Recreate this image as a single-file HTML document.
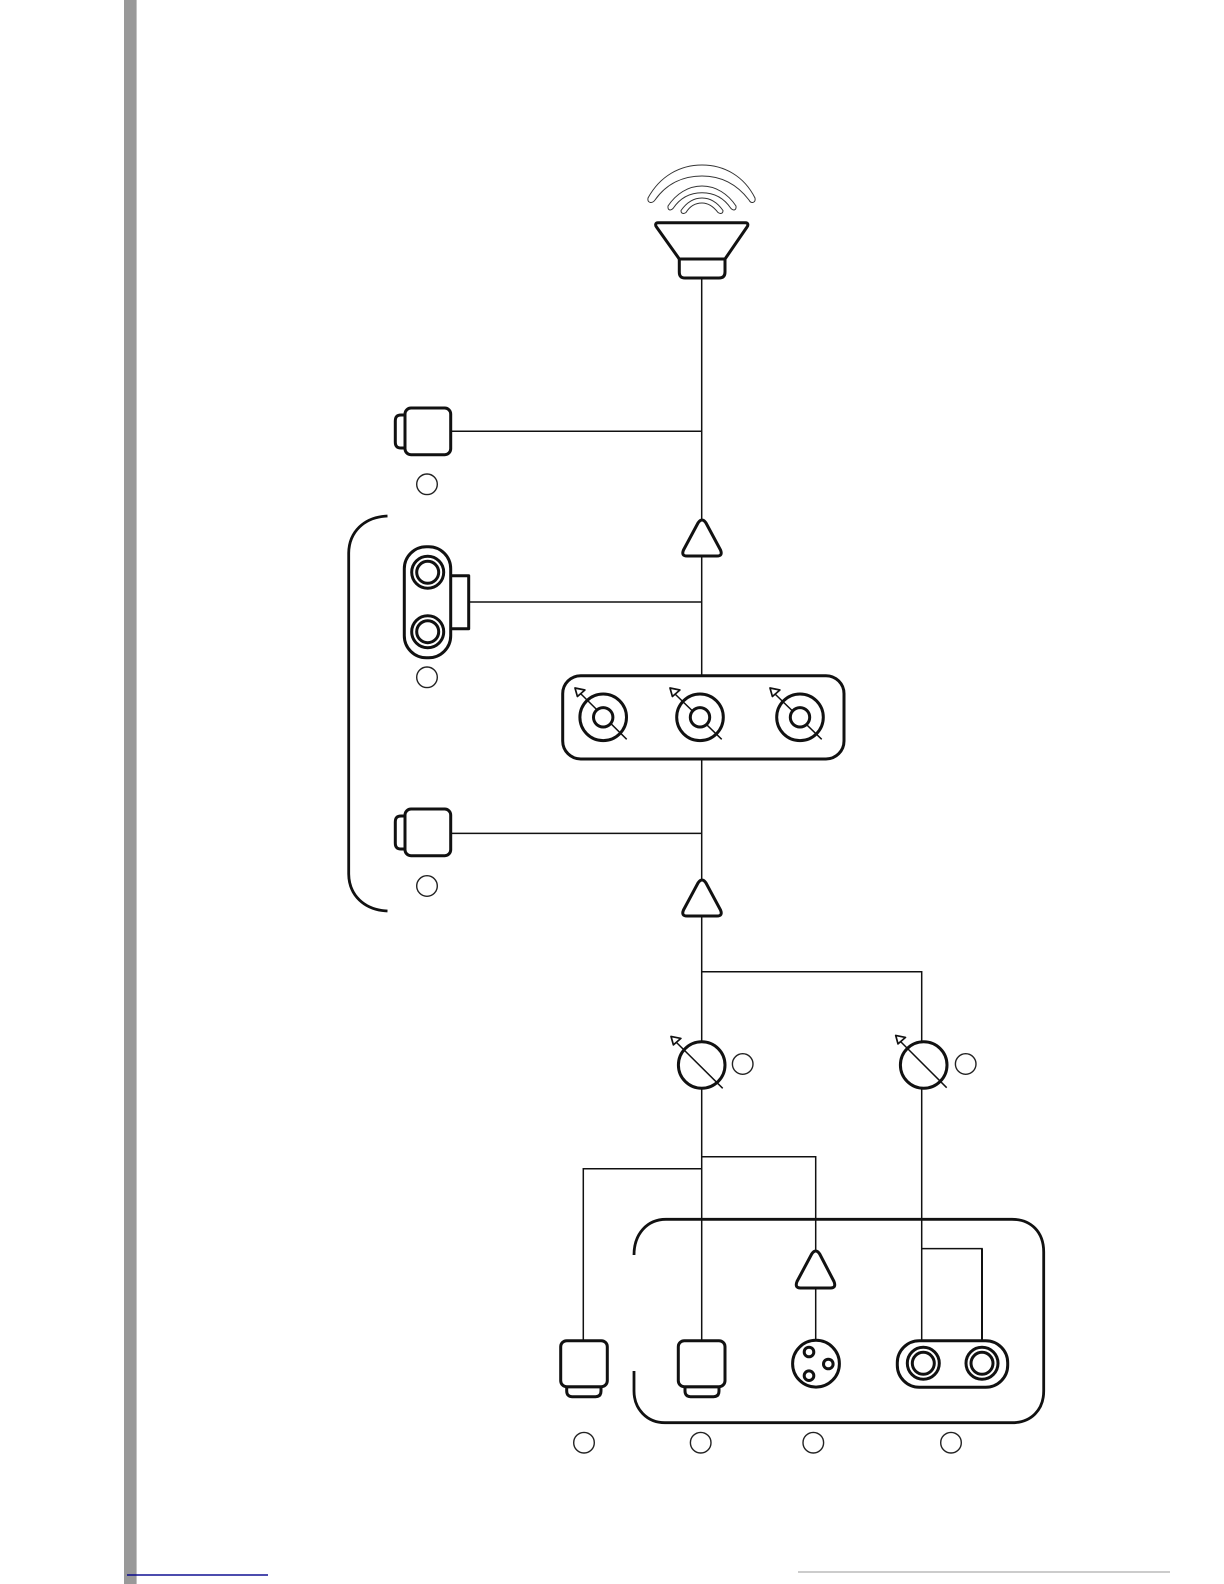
<!DOCTYPE html>
<html><head><meta charset="utf-8"><style>
html,body{margin:0;padding:0;background:#fff;width:1224px;height:1584px;overflow:hidden}
svg{display:block}
.l{stroke:#111;stroke-width:1.5;fill:none}
.t{stroke:#111;stroke-width:3;fill:#fff;stroke-linejoin:round}
.b{stroke:#111;stroke-width:2.8;fill:none;stroke-linecap:butt}
.c{stroke:#222;stroke-width:1.4;fill:#fff}
.a{stroke:#111;stroke-width:1.7;fill:#fff;stroke-linejoin:round}
.w{stroke:#333;stroke-width:1;fill:#fff}
</style></head><body>
<svg width="1224" height="1584" viewBox="0 0 1224 1584" xmlns="http://www.w3.org/2000/svg">
<rect x="124" y="0" width="12.6" height="1584" fill="#999"/>
<rect x="127" y="1574.3" width="141" height="1.4" fill="#00008b"/>
<rect x="798" y="1571" width="372" height="2" fill="#ccc"/>

<!-- connectors -->
<path class="l" d="M701.7 278V1341M451 431.3H701.7M469 602H701.7M451 833.4H701.7M701.7 971.8H921.7V1341M701.7 1156.7H815.7V1341M701.7 1168.8H583.3V1341M921.7 1248.6H982V1341"/>
<path d="M982 1248.6V1341" stroke="#111" stroke-width="2" fill="none"/>

<!-- brackets -->
<path class="b" d="M387.5 516C364 517 349 532 348.7 553V874C349 895 364 910 387.5 911"/>
<path class="b" d="M634 1255C634 1234 647 1219.3 666 1219.3H1012C1031 1219.3 1043.7 1232 1043.7 1252V1391C1043.7 1410 1031 1422.7 1012 1422.7H665C647 1422.7 634 1409 634 1391V1371"/>

<!-- speaker -->
<path class="w" d="M648 198C660 176 680 165 702 165C724 165 744 176 755 198C756 203 751 204 749 200C736 183 720 176 702 176C684 176 667 183 655 200C652 204 647 203 648 198Z"/>
<path class="w" d="M668 206C676 194 688 186 702 186C716 186 728 194 736 206C736.5 211 733 210.500 731 208.500C724 198 714 192.700 702 192.700C690 192.700 680 198 673 208.500C671 210.500 667.500 211 668 206Z"/>
<path class="w" d="M681 210.500C687 202 694 198 702 198C710 198 717 202 723 210.500C723 214 720 214 718 212.500C713 206 708 203 702 203C696 203 690 206 686 212.500C684 214 681 214 681 210.500Z"/>
<path class="t" d="M658 222.700H745.500C748 222.700 748.500 225 747 227L725 259H679.300L656.500 227C655 225 655.500 222.700 658 222.700Z"/>
<path class="t" d="M679.300 259H725V272C725 276 723 278 719 278H685C681 278 679.300 276 679.300 272Z"/>

<!-- triangles -->
<path class="t" d="M698 523Q702 517 706 523L720.500 550Q723 556 717 556H687Q681 556 683.500 550Z"/>
<path class="t" d="M698 883Q702 877 706 883L720.500 910Q723 916 717 916H687Q681 916 683.500 910Z"/>
<path class="t" d="M811.700 1254Q815.700 1248 819.700 1254L834 1281.500Q836.500 1288 830.500 1288H800.500Q794.500 1288 797 1281.500Z"/>

<!-- top jack -->
<path class="t" d="M405 415H401C397 415 395.300 417 395.300 421V442C395.300 446 397 448 401 448H405Z"/>
<rect class="t" x="405" y="408" width="45.700" height="46.700" rx="6"/>
<circle class="c" cx="427" cy="484.300" r="10.300"/>

<!-- double vertical jack -->
<path class="t" d="M450 575.700H468.700V628.700H450Z"/>
<rect class="t" x="404.300" y="546.700" width="46.400" height="111" rx="22"/>
<circle class="t" cx="427.700" cy="572.300" r="16"/><circle class="t" cx="427.700" cy="572.300" r="11"/>
<circle class="t" cx="427.700" cy="631.700" r="16"/><circle class="t" cx="427.700" cy="631.700" r="11"/>
<circle class="c" cx="427" cy="677.300" r="10.300"/>

<!-- mixer -->
<rect class="t" x="562.700" y="675.700" width="281.300" height="83.300" rx="18"/>
<g>
<circle class="t" cx="603.200" cy="717.300" r="23.300"/>
<line class="l" x1="581" y1="694" x2="626.700" y2="739.300"/>
<circle class="t" cx="603.200" cy="717.300" r="9.700"/>
<path class="a" d="M575 688L584.900 690L577.400 696.500Z"/>
<circle class="t" cx="700" cy="717.300" r="23.300"/>
<line class="l" x1="675" y1="694" x2="721.700" y2="739.300"/>
<circle class="t" cx="700" cy="717.300" r="9.700"/>
<path class="a" d="M670 688L679.900 690L672.400 696.500Z"/>
<circle class="t" cx="800" cy="717.300" r="23.300"/>
<line class="l" x1="775" y1="694" x2="821.700" y2="739.300"/>
<circle class="t" cx="800" cy="717.300" r="9.700"/>
<path class="a" d="M770 688L779.900 690L772.400 696.500Z"/>
</g>

<!-- middle jack -->
<path class="t" d="M405 816H401C397 816 395.300 818 395.300 822V843C395.300 847 397 849 401 849H405Z"/>
<rect class="t" x="405" y="809" width="45.700" height="46.700" rx="6"/>
<circle class="c" cx="427" cy="886" r="10.300"/>

<!-- pots -->
<circle class="t" cx="701.700" cy="1065" r="23.300"/>
<line class="l" x1="676" y1="1042" x2="722.700" y2="1088.300"/>
<path class="a" d="M671 1036.400L680.900 1038.400L673.400 1044.900Z"/>
<circle class="c" cx="742.700" cy="1064" r="10.300"/>
<circle class="t" cx="923.700" cy="1065" r="23.300"/>
<line class="l" x1="900" y1="1041" x2="946.700" y2="1087.700"/>
<path class="a" d="M895.700 1035.400L905.500 1037.400L898 1043.900Z"/>
<circle class="c" cx="965.700" cy="1064" r="10.300"/>

<!-- bottom row -->
<path class="t" d="M566.700 1386.700V1391C566.700 1395 569 1396.700 572 1396.700H595.500C599 1396.700 601 1395 601 1391V1386.700Z"/>
<rect class="t" x="560.700" y="1340.700" width="46.600" height="46" rx="6"/>
<circle class="c" cx="584" cy="1442.700" r="10.300"/>
<path class="t" d="M685 1386.700V1391C685 1395 687.500 1396.700 690.500 1396.700H713.500C717 1396.700 719 1395 719 1391V1386.700Z"/>
<rect class="t" x="678.300" y="1340.700" width="46.700" height="46" rx="6"/>
<circle class="c" cx="700.700" cy="1442.700" r="10.300"/>
<circle class="t" cx="816" cy="1363.700" r="23.400"/>
<circle class="t" cx="809" cy="1352" r="4.800"/><circle class="t" cx="809" cy="1375.700" r="4.800"/><circle class="t" cx="828.300" cy="1364" r="4.800"/>
<circle class="c" cx="813.300" cy="1442.700" r="10.300"/>
<rect class="t" x="897.300" y="1340.700" width="110.400" height="46.600" rx="22"/>
<circle class="t" cx="923.300" cy="1363.300" r="16"/><circle class="t" cx="923.300" cy="1363.300" r="11"/>
<circle class="t" cx="982" cy="1363.300" r="16"/><circle class="t" cx="982" cy="1363.300" r="11"/>
<circle class="c" cx="951" cy="1442.700" r="10.300"/>
</svg>
</body></html>
